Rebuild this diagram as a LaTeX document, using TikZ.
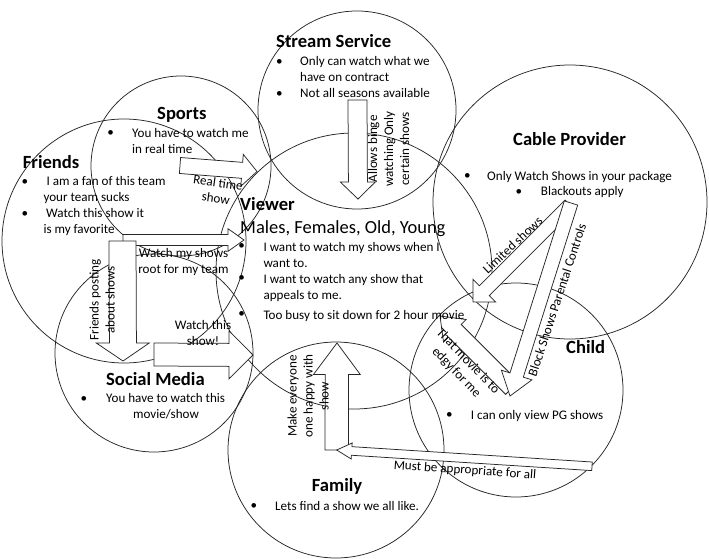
\documentclass[tikz,border=0pt]{standalone}
\usepackage{fontspec}
\setmainfont{Carlito}
\usetikzlibrary{calc}

\tikzset{
  circ/.style={draw=black!85, line width=0.75pt, circle, inner sep=0pt, minimum size=#1},
  barrowshape/.style={draw=black!85, fill=white, line width=0.75pt, line join=miter},
  ttl/.style={font=\fontsize{18.6}{22}\selectfont\bfseries, inner sep=0pt, anchor=base west},
  big/.style={font=\fontsize{18.5}{22}\selectfont, inner sep=0pt, anchor=base west},
  body/.style={font=\fontsize{13.1}{16}\selectfont, inner sep=0pt, anchor=base west},
  bul/.style={font=\fontsize{13.1}{16}\selectfont, inner sep=0pt, anchor=center},
  lab/.style={font=\fontsize{13.1}{16}\selectfont, inner sep=0pt, align=center, anchor=center},
}

% #1 name, #2 tail coordinate, #3 tip coordinate, #4 body half-width, #5 head half-width, #6 head length
\newcommand\blockarrow[6]{%
  \coordinate (#1-b) at ($(#3)!#6!(#2)$);
  \draw[barrowshape] ($(#2)!#4!90:(#3)$) -- ($(#1-b)!#4!90:(#3)$) -- ($(#1-b)!#5!90:(#3)$)
    -- (#3) -- ($(#1-b)!#5!-90:(#3)$) -- ($(#1-b)!#4!-90:(#3)$) -- ($(#2)!#4!-90:(#3)$) -- cycle;
}

\begin{document}
\begin{tikzpicture}[x=1pt,y=-1pt]
\fill[white] (0,0) rectangle (709,559);
\useasboundingbox (0,0) rectangle (709,559);

% ---------- circles ----------
\node[circ=198pt] (stream) at (357,110) {};
\node[circ=180pt] (sports) at (181,166) {};
\node[circ=244pt] (friends) at (124,241) {};
\node[circ=276pt] (viewer) at (354,271) {};
\node[circ=274pt] (cable) at (570,202) {};
\node[circ=214pt] (child) at (516,390) {};
\node[circ=216pt] (family) at (336,450) {};
\node[circ=198pt] (social) at (154,353) {};

% ---------- arrow end points ----------
\coordinate (sportsT) at (180,165.5);   \coordinate (sportsP) at (257,171.5);
\coordinate (friendsT) at (123,240);    \coordinate (friendsP) at (244,240);
\coordinate (fsocT) at (122.5,241);     \coordinate (fsocP) at (123,361);
\coordinate (socT) at (154,354.5);      \coordinate (socP) at (253,355);
\coordinate (streamT) at (357.5,100);   \coordinate (streamP) at (358,199);
\coordinate (famT) at (336.7,450);      \coordinate (famP) at (337,343);
\coordinate (appT) at (592,466.3);      \coordinate (appP) at (336.7,450);
\coordinate (limT) at (570,205);        \coordinate (limP) at (473,302);
\coordinate (movT) at (512,388);        \coordinate (movP) at (440,316);
\coordinate (blkT) at (571,203);        \coordinate (blkP) at (510,396);

% ---------- block arrows ----------
\blockarrow{sa}{sportsT}{sportsP}{8pt}{16pt}{15pt}
\blockarrow{fa}{friendsT}{friendsP}{5.4pt}{11.3pt}{16pt}
\blockarrow{fsa}{fsocT}{fsocP}{13.5pt}{26.5pt}{18pt}
\blockarrow{soa}{socT}{socP}{11.5pt}{24pt}{24pt}
\blockarrow{sta}{streamT}{streamP}{9.5pt}{17.5pt}{17pt}
\blockarrow{fma}{famT}{famP}{11.7pt}{23.4pt}{31.5pt}
\blockarrow{apa}{appT}{appP}{4.3pt}{8pt}{15pt}
\blockarrow{lma}{limT}{limP}{7pt}{16pt}{16pt}
\blockarrow{mva}{movT}{movP}{9pt}{16pt}{21pt}
\blockarrow{bka}{blkT}{blkP}{7pt}{16pt}{22pt}

% ---------- Stream Service ----------
\node[ttl] (streamtitle) at (276,47.5) {Stream Service};
\node[bul] (streamb1) at (279.3,62.7) {•};
\node[body] (streaml1) at (300,66) {Only can watch what we};
\node[body] (streaml2) at (300,82) {have on contract};
\node[bul] (streamb2) at (279.3,94.3) {•};
\node[body] (streaml3) at (300,98) {Not all seasons available};

% ---------- Sports ----------
\node[ttl] (sportstitle) at (157,120) {Sports};
\node[bul] (sportsb1) at (110.7,134) {•};
\node[body] (sportsl1) at (132,137.5) {You have to watch me};
\node[body] (sportsl2) at (132,153.5) {in real time};

% ---------- Friends ----------
\node[ttl] (friendstitle) at (22.7,168.3) {Friends};
\node[bul] (friendsb1) at (25,182.7) {•};
\node[body] (friendsl1) at (46.5,185.7) {I am a fan of this team};
\node[body] (friendsl2) at (43.3,201.7) {your team sucks};
\node[bul] (friendsb2) at (25,214.3) {•};
\node[body] (friendsl3) at (46,217.7) {Watch this show it};
\node[body] (friendsl4) at (43.3,233.3) {is my favorite};

% ---------- Viewer ----------
\node[ttl] (viewertitle) at (240,210.5) {Viewer};
\node[big] (viewersub) at (240,233.5) {Males, Females, Old, Young};
\node[bul] (viewerb1) at (241.7,246.7) {•};
\node[body] (viewerl1) at (263.3,251) {I want to watch my shows when I};
\node[body] (viewerl2) at (263.3,267) {want to.};
\node[bul] (viewerb2) at (241.7,279) {•};
\node[body] (viewerl3) at (263.3,283) {I want to watch any show that};
\node[body] (viewerl4) at (263.3,299) {appeals to me.};
\node[bul] (viewerb3) at (241.7,315) {•};
\node[body] (viewerl5) at (263.3,319) {Too busy to sit down for 2 hour movie};

% ---------- Cable Provider ----------
\node[ttl] (cabletitle) at (513,145.7) {Cable Provider};
\node[bul] (cableb1) at (467.3,176.7) {•};
\node[body] (cablel1) at (487,180) {Only Watch Shows in your package};
\node[bul] (cableb2) at (519,192.3) {•};
\node[body] (cablel2) at (540.7,195.5) {Blackouts apply};

% ---------- Child ----------
\node[ttl] (childtitle) at (566,353.3) {Child};
\node[bul] (childb1) at (449.3,415) {•};
\node[body] (childl1) at (470.7,419) {I can only view PG shows};

% ---------- Family ----------
\node[ttl] (familytitle) at (311.7,491.7) {Family};
\node[bul] (familyb1) at (254,506) {•};
\node[body] (familyl1) at (275,510) {Lets find a show we all like.};

% ---------- Social Media ----------
\node[ttl] (socialtitle) at (106,385) {Social Media};
\node[bul] (socialb1) at (84,399.3) {•};
\node[body] (sociall1) at (106,402.7) {You have to watch this};
\node[body, anchor=base] (sociall2) at (166,418.7) {movie/show};

% ---------- arrow labels ----------
\node[lab, rotate=-8] (lblrealtime) at (217,190.5) {Real time\\show};
\node[lab] (lblwatchmy) at (183.5,262) {Watch my shows\\root for my team};
\node[lab, rotate=90] (lblposting) at (102,300) {Friends posting\\about shows};
\node[lab] (lblwatchthis) at (203,333) {Watch this\\show!};
\node[lab, rotate=90] (lblbinge) at (388.5,149) {Allows binge\\watching Only\\certain shows};
\node[lab, rotate=90] (lblhappy) at (308,396) {Make everyone\\one happy with\\show};
\node[lab, rotate=43] (lbllimited) at (512.5,245) {Limited shows};
\node[lab, rotate=71.7] (lblblock) at (557,300) {Block Shows Parental Controls};
\node[lab, rotate=-46] (lblmovie) at (462,367) {That movie is to\\edgy for me};
\node[lab, rotate=-4] (lblappropriate) at (465,470.5) {Must be appropriate for all};
\end{tikzpicture}
\end{document}
